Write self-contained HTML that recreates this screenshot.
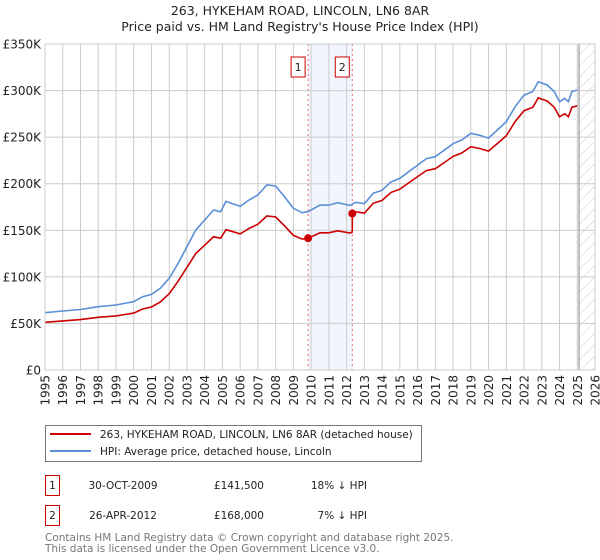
<!DOCTYPE html>
<html><head><meta charset="utf-8"><style>
body{margin:0;background:#fff;font-family:"Liberation Sans","DejaVu Sans",sans-serif;}
svg{display:block}
</style></head><body>
<svg id="c" width="600" height="560" xmlns="http://www.w3.org/2000/svg" font-family="DejaVu Sans, Liberation Sans, sans-serif"></svg>
<script>
const years=[1995,1996,1997,1998,1999,2000,2000.5,2001,2001.5,2002,2002.5,2003,2003.5,2004,2004.5,2004.9,2005.2,2005.5,2006,2006.5,2007,2007.5,2008,2008.5,2009,2009.5,2009.83,2010.5,2011,2011.5,2012.2,2012.5,2013,2013.5,2014,2014.5,2015,2015.5,2016,2016.5,2017,2017.5,2018,2018.5,2019,2019.5,2020,2020.5,2021,2021.5,2022,2022.5,2022.8,2023.3,2023.7,2024,2024.3,2024.5,2024.7,2025.0];
const hpi=[61.5,63.3,65,68,69.8,73.4,78.7,81.2,87.7,98.4,114.5,132.4,150.3,161,171.8,170,181,179,175.6,182.5,188,198.6,197.5,186,173.6,168.9,170,177,177,179.6,176.7,180,178.5,189.7,193,202,205.7,212.9,220,227,229,236,243,247,254,252,249,257.7,266.6,282.7,295,299,309.5,306,299,288,291.6,288,299,300.6];
const saleDates=[2009.83,2012.32];
const salePrices=[141.5,168];
const saleLabels=["1","2"];
const yTicks=[0,50,100,150,200,250,300,350];
const xTicks=[1995,1996,1997,1998,1999,2000,2001,2002,2003,2004,2005,2006,2007,2008,2009,2010,2011,2012,2013,2014,2015,2016,2017,2018,2019,2020,2021,2022,2023,2024,2025,2026];
const L=45,R=595,T=44,B=370;
const X=v=>L+(v-1995)/(2026-1995)*(R-L);
const Y=v=>B-v/350*(B-T);
const NS="http://www.w3.org/2000/svg";
const svg=document.getElementById('c');
function mk(tag,attrs,parent){const e=document.createElementNS(NS,tag);for(const k in attrs)e.setAttribute(k,attrs[k]);(parent||svg).appendChild(e);return e;}
function hpiAt(t){for(let i=1;i<years.length;i++){if(t<=years[i]){const f=(t-years[i-1])/(years[i]-years[i-1]);return hpi[i-1]+f*(hpi[i]-hpi[i-1]);}}return hpi[hpi.length-1];}
let t=mk('text',{x:300,y:15,'text-anchor':'middle','font-size':12.5,fill:'#222'});t.textContent='263, HYKEHAM ROAD, LINCOLN, LN6 8AR';

t=mk('text',{x:300,y:31,'text-anchor':'middle','font-size':12.5,fill:'#222'});t.textContent="Price paid vs. HM Land Registry's House Price Index (HPI)";

let s=mk('rect',{x:X(saleDates[0]),y:T,width:X(saleDates[1])-X(saleDates[0]),height:B-T,fill:'#eef3fc',opacity:0.8});

const defs=mk('defs',{});const pat=mk('pattern',{id:'h',width:8,height:8,patternUnits:'userSpaceOnUse',patternTransform:'rotate(45)'},defs);mk('line',{x1:0,y1:0,x2:0,y2:8,stroke:'#ccc','stroke-width':1},pat);
let hz=mk('rect',{x:X(2025.1),y:T,width:R-X(2025.1),height:B-T,fill:'url(#h)'});

yTicks.forEach(v=>{const g=mk('line',{x1:L,x2:R,y1:Y(v),y2:Y(v),stroke:'#ccc','stroke-width':1});

const tx=mk('text',{x:L-4,y:Y(v)+4.5,'text-anchor':'end','font-size':12,fill:'#222'});tx.textContent=v===0?'£0':'£'+v+'K';
});
xTicks.forEach(v=>{const g=mk('line',{x1:X(v),x2:X(v),y1:T,y2:B,stroke:'#ccc','stroke-width':1});

const tx=mk('text',{x:X(v)+4.5,y:B+5,'text-anchor':'end','font-size':12,fill:'#222',transform:`rotate(-90 ${X(v)+4.5} ${B+5})`});tx.textContent=v;
});
let nl=mk('line',{x1:X(2025.1),x2:X(2025.1),y1:T,y2:B,stroke:'#999','stroke-width':1.2});

saleDates.forEach((d,i)=>{const l=mk('line',{x1:X(d),x2:X(d),y1:T,y2:B,stroke:'#e66','stroke-width':1,'stroke-dasharray':'2,3'});

const r=mk('rect',{x:X(d)-17,y:57,width:14,height:20,fill:'#fff',stroke:'#c00','stroke-width':1});

const tx=mk('text',{x:X(d)-10,y:71,'text-anchor':'middle','font-size':11,fill:'#222'});tx.textContent=saleLabels[i];
});
const bp=years.map((y,i)=>X(y).toFixed(1)+','+Y(hpi[i]).toFixed(1)).join(' ');
let bl=mk('polyline',{points:bp,fill:'none',stroke:'#5b8fd6','stroke-width':1.6});

const r0=salePrices[0]/hpiAt(saleDates[0]),r1=salePrices[1]/hpiAt(saleDates[1]);
let rp=[];years.forEach((y,i)=>{if(y<saleDates[1])rp.push([y,hpi[i]*r0]);});
rp.push([saleDates[1],hpiAt(saleDates[1])*r0]);rp.push([saleDates[1],salePrices[1]]);
years.forEach((y,i)=>{if(y>saleDates[1])rp.push([y,hpi[i]*r1]);});
let rl=mk('polyline',{points:rp.map(p=>X(p[0]).toFixed(1)+','+Y(p[1]).toFixed(1)).join(' '),fill:'none',stroke:'#cc0000','stroke-width':1.6});

saleDates.forEach((d,i)=>{const c=mk('circle',{cx:X(d),cy:Y(salePrices[i]),r:4,fill:'#cc0000'});
});
let fr=mk('rect',{x:L,y:T,width:R-L,height:B-T,fill:'none',stroke:'#ccc','stroke-width':1});

let lg=mk('rect',{x:45.5,y:425.5,width:376,height:36,fill:'#fff',stroke:'#777','stroke-width':1});

let a=mk('line',{x1:50,x2:91,y1:434,y2:434,stroke:'#cc0000','stroke-width':2});
a=mk('text',{x:100,y:438,'font-size':10.5,fill:'#222'});a.textContent='263, HYKEHAM ROAD, LINCOLN, LN6 8AR (detached house)';
a=mk('line',{x1:50,x2:91,y1:451,y2:451,stroke:'#5b8fd6','stroke-width':2});
a=mk('text',{x:100,y:455,'font-size':10.5,fill:'#222'});a.textContent='HPI: Average price, detached house, Lincoln';
const rows=[["1","30-OCT-2009","£141,500","18% ↓ HPI"],["2","26-APR-2012","£168,000","7% ↓ HPI"]];
rows.forEach((r,i)=>{const y=475+i*30;
let b=mk('rect',{x:45.5,y:y+0.5,width:14,height:20,fill:'#fff',stroke:'#c00'});
let e=mk('text',{x:52.5,y:y+14,'text-anchor':'middle','font-size':10.5,fill:'#222'});e.textContent=r[0];
e=mk('text',{x:123,y:y+14,'text-anchor':'middle','font-size':10.5,fill:'#222'});e.textContent=r[1];
e=mk('text',{x:264,y:y+14,'text-anchor':'end','font-size':10.5,fill:'#222'});e.textContent=r[2];
e=mk('text',{x:367,y:y+14,'text-anchor':'end','font-size':10.5,fill:'#222'});e.textContent=r[3];});
let f=mk('text',{x:45,y:541,'font-size':10.5,fill:'#777'});f.textContent='Contains HM Land Registry data © Crown copyright and database right 2025.';
f=mk('text',{x:45,y:552,'font-size':10.5,fill:'#777'});f.textContent='This data is licensed under the Open Government Licence v3.0.';
</script>
</body></html>
